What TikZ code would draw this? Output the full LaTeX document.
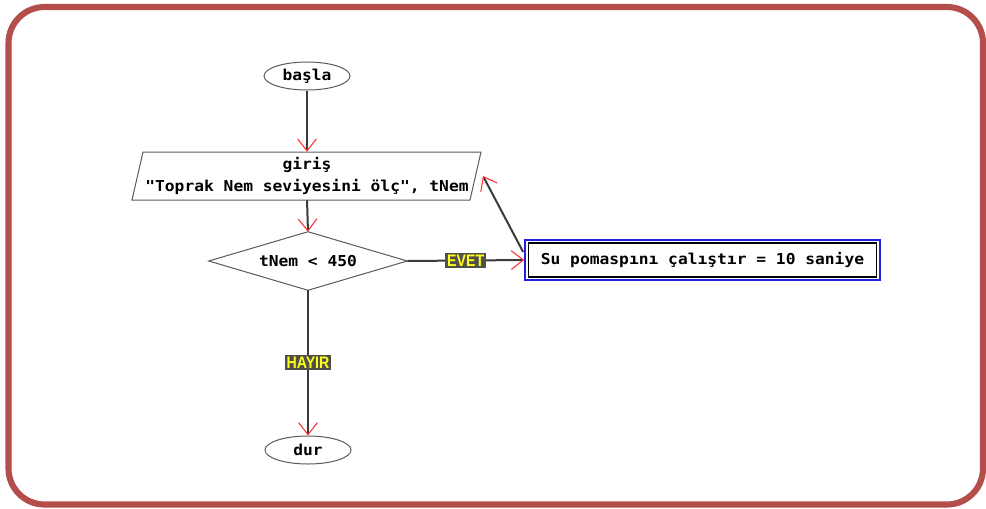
\documentclass[tikz,border=0pt]{standalone}
\usepackage{fontspec}
\usetikzlibrary{shapes.geometric,arrows.meta,calc}
\newfontfamily\mfont{DejaVu Sans Mono}[FakeStretch=1.08]
\newfontfamily\lfont{Liberation Sans}[FakeStretch=0.85]
\definecolor{framec}{HTML}{B34E4B}
\definecolor{linec}{HTML}{3A3A3A}
\definecolor{shapec}{HTML}{5A5A5A}
\definecolor{labbg}{HTML}{505048}
\definecolor{labfg}{HTML}{FFFF1E}
\definecolor{tipc}{HTML}{FF3030}
\definecolor{procblue}{HTML}{2222DD}
\begin{document}
\begin{tikzpicture}[x=0.75pt,y=-0.75pt,
  txt/.style={font=\fontsize{11.3}{17}\selectfont\mfont\bfseries, inner sep=0pt},
  term/.style={txt, ellipse, draw=shapec, line width=0.75pt, minimum width=64.5pt, minimum height=21pt},
  outl/.style={draw=shapec, line width=0.75pt},
  arr/.style={draw=linec, line width=1.5pt, -{Straight Barb[color=tipc, length=9pt, width=14pt, line width=0.8pt]}},
  lab/.style={font=\fontsize{12.5}{13}\selectfont\lfont\bfseries, text=labfg, fill=labbg, inner sep=1.3pt}
]
\useasboundingbox (0,0) rectangle (986,508);
\draw[framec, line width=4.6pt, rounded corners=27pt] (8.5,7) rectangle (983,504.5);

\node[term] (bas) at (307,76) {başla};

\draw[outl] (143,152) -- (481,152) -- (470,200) -- (132,200) -- cycle;
\node[txt, align=center, minimum height=36pt] (gir) at (307,176) {giriş\\"Toprak Nem seviyesini ölç", tNem};
\coordinate (gin) at (483,176);

\node[txt, minimum width=148.5pt, minimum height=43.5pt] (dec) at (308,261) {tNem < 450};
\draw[outl] (dec.north) -- (dec.east) -- (dec.south) -- (dec.west) -- cycle;

\node[txt, draw=procblue, line width=1.5pt, minimum width=266pt, minimum height=30pt] (proc) at (702.5,260) {Su pomaspını çalıştır = 10 saniye};
\draw[black, line width=0.8pt] ($(proc.north west)+(4,4)$) rectangle ($(proc.south east)+(-4,-4)$);
\coordinate (p1) at ($(proc.west)+(-1,-8)$);

\node[term] (dur) at (308,450) {dur};

\draw[arr] (bas) -- (gir.north);
\draw[arr] (gir.south) -- (dec.north);
\draw[arr] (dec.east) -- node[lab] {EVET} (proc.west);
\draw[arr] (dec.south) -- node[lab] {HAYIR} (dur);
\draw[arr] (p1) -- (gin);
\end{tikzpicture}
\end{document}
